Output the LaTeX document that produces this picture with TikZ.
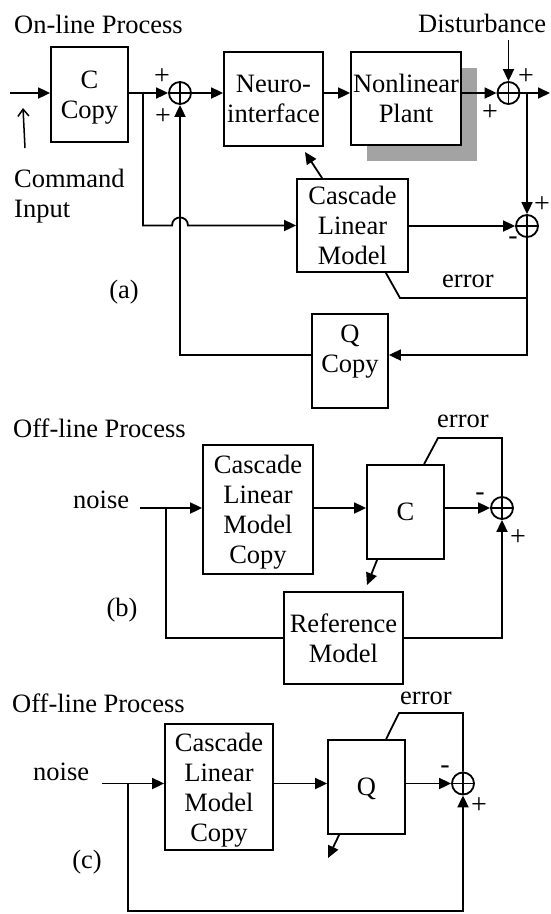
\documentclass[tikz,border=0pt]{standalone}
\usepackage{fontspec}
\setmainfont{Liberation Serif}
\usetikzlibrary{arrows.meta,calc}
\newcommand\bigfs{\fontsize{26.5}{30}\selectfont}
\newcommand\sgnfs{\fontsize{28}{28}\selectfont}
\begin{document}
\begin{tikzpicture}[x=1pt,y=-1pt,
  ln/.style={line width=1.8pt},
  arr/.style={line width=1.8pt,-{Triangle[length=12pt,width=11pt]}},
  thinarr/.style={line width=1.5pt,-{Straight Barb[length=7pt,width=11pt]}},
  box/.style={draw,line width=1.8pt,fill=white,align=center,inner sep=0pt,text depth=0pt,font=\bigfs},
  sum/.style={draw,circle,line width=1.8pt,minimum size=22pt,inner sep=0pt,
    path picture={\draw[line width=1.6pt] (path picture bounding box.north) -- (path picture bounding box.south)
                  (path picture bounding box.west) -- (path picture bounding box.east);}},
  sgn/.style={font=\sgnfs,inner sep=0pt},
  lbl/.style={font=\bigfs,inner sep=0pt},
  txt/.style={font=\bigfs,inner sep=0pt,align=center,text depth=0pt}]
\useasboundingbox (0,0) rectangle (550,914);
\fill[white] (0,0) rectangle (550,914);

% ================= (a) =================
\node[lbl,anchor=base west] (ta1) at (14,33) {On-line Process};
\node[lbl,anchor=base west] (ta2) at (418,32) {Disturbance};
\node[lbl,anchor=base west] (ta3) at (14,187) {Command};
\node[lbl,anchor=base west] (ta4) at (14,217) {Input};
\node[lbl] (la) at (124,292) {(a)};
\node[lbl,anchor=base west] (erra) at (442,287) {error};

\node[box,minimum width=77pt,minimum height=95pt] (cc) at (89.5,94.5) {C\\Copy};
\node[box,minimum width=99pt,minimum height=94pt] (neuro) at (273.5,99) {Neuro-\\interface};
\fill[gray!72] (367,68) rectangle (477,161);
\node[box,minimum width=110pt,minimum height=93pt] (plant) at (406,98.5) {Nonlinear\\Plant};
\node[box,minimum width=111pt,minimum height=93pt] (casc) at (352.5,225.5) {Cascade\\Linear\\Model};
\node[box,minimum width=76pt,minimum height=94pt] (qc) at (350,361) {};
\node[txt] (qct) at (350,349) {Q\\Copy};

\node[sum] (s1) at (180,93) {};
\node[sum] (s2) at (508.5,93) {};
\node[sum] (s3) at (527,226) {};

\node[sgn] (p1) at (162,77) {+};
\node[sgn] (p2) at (163,117) {+};
\node[sgn] (p3) at (526,77) {+};
\node[sgn] (p4) at (490,113) {+};
\node[sgn] (p5) at (542,205) {+};
\node[sgn] (m5) at (513,241) {-};

\coordinate (inp) at (10,93);
\coordinate (ci1) at (25,148);
\coordinate (ci2) at (23,108);
\coordinate (b1) at (143,93);
\coordinate (hopA) at (172,225.5);
\coordinate (hopB) at (188,225.5);
\coordinate (dist) at (508.5,40);
\coordinate (outp) at (550,93);
\coordinate (b2) at (527,93);
\coordinate (e1) at (527,298);
\coordinate (e2) at (400,298);
\coordinate (nt) at (305,152);

\draw[arr] (inp) -- (cc.west |- inp);
\draw[thinarr] (ci1) -- (ci2);
\draw[arr] (cc.east |- s1) -- (s1.west);
\draw[arr] (b1) |- (hopA) .. controls +(0,-10.7) and +(0,-10.7) .. (hopB) -- (casc.west);
\draw[arr] (s1.east) -- (neuro.west |- s1);
\draw[arr] (neuro.east |- s1) -- (plant.west |- s1);
\draw[arr] (plant.east |- s2) -- (s2.west);
\draw[arr] (dist) -- (s2.north);
\draw[arr] (s2.east) -- (outp);
\draw[arr] (b2) -- (s3.north);
\draw[arr] (casc.east |- s3) -- (s3.west);
\draw[arr] (s3.south) |- ([yshift=6pt]qc.east);
\draw[arr] ([yshift=6pt]qc.west) -| (s1.south);
\draw[ln] (e1) -- (e2) -- ([xshift=-23pt]casc.south east);
\draw[arr] ([xshift=26pt]casc.north west) -- (nt);

% ================= (b) =================
\node[lbl,anchor=base west] (tb1) at (13,437) {Off-line Process};
\node[lbl,anchor=base west] (errb) at (437,427) {error};
\node[lbl,anchor=base west] (nzb) at (73,508) {noise};
\node[lbl] (lb) at (122,610) {(b)};

\node[box,minimum width=110pt,minimum height=129pt] (ccb) at (258,509.5) {Cascade\\Linear\\Model\\Copy};
\node[box,minimum width=77pt,minimum height=94pt] (cb) at (405.5,512) {C};
\node[box,minimum width=119pt,minimum height=92pt] (ref) at (343.5,638) {Reference\\Model};
\node[sum] (sb) at (502,508) {};
\node[sgn] (mb) at (480,497) {-};
\node[sgn] (pb) at (518,538) {+};

\coordinate (nb) at (140,508);
\coordinate (brb) at (166,508);
\coordinate (eb) at (438,438);
\coordinate (tipb) at (367,585);

\draw[arr] (nb) -- (ccb.west |- nb);
\draw[ln] (brb) |- (ref.west);
\draw[arr] (ccb.east |- nb) -- (cb.west |- nb);
\draw[arr] (cb.east |- sb) -- (sb.west);
\draw[arr] (ref.east) -| (sb.south);
\draw[ln] (sb.north) -- (sb.north |- eb) -- (eb) -- ([xshift=58pt]cb.north west);
\draw[arr] ([xshift=11pt]cb.south west) -- (tipb);

% ================= (c) =================
\node[lbl,anchor=base west] (tc1) at (12,712) {Off-line Process};
\node[lbl,anchor=base west] (errc) at (400,704) {error};
\node[lbl,anchor=base west] (nzc) at (33,780) {noise};
\node[lbl] (lc) at (87,862) {(c)};

\node[box,minimum width=108pt,minimum height=126pt] (ccc) at (219,787) {Cascade\\Linear\\Model\\Copy};
\node[box,minimum width=77pt,minimum height=94pt] (qb) at (366.5,787) {Q};
\node[sum] (sc) at (463,783.5) {};
\node[sgn] (mc) at (445,770) {-};
\node[sgn] (pc) at (479,806) {+};

\coordinate (nc) at (102,783.5);
\coordinate (brc) at (128,783.5);
\coordinate (botc) at (128,911);
\coordinate (ec) at (399,713);
\coordinate (tipc) at (328,858);

\draw[arr] (nc) -- (ccc.west |- nc);
\draw[arr] (brc) -- (botc) -| (sc.south);
\draw[arr] (ccc.east |- sc) -- (qb.west |- sc);
\draw[arr] (qb.east |- sc) -- (sc.west);
\draw[ln] (sc.north) -- (sc.north |- ec) -- (ec) -- ([xshift=59pt]qb.north west);
\draw[arr] ([xshift=12pt]qb.south west) -- (tipc);
\end{tikzpicture}
\end{document}
